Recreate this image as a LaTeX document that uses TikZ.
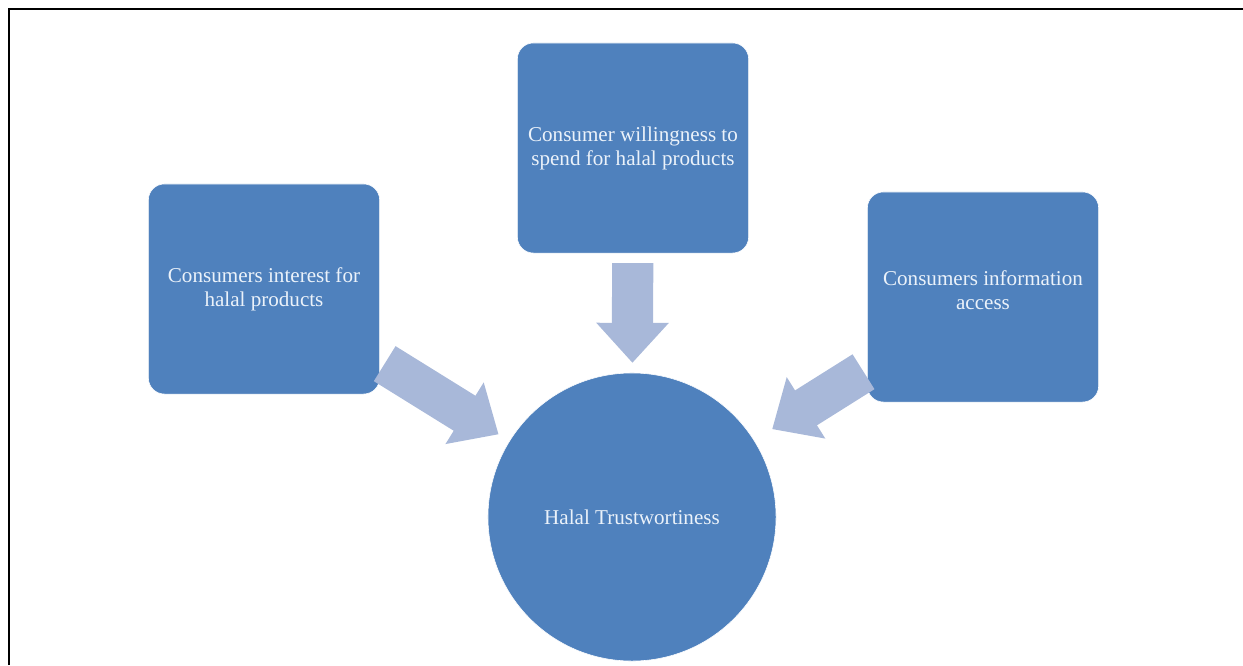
\documentclass[tikz,border=0pt]{standalone}
\usepackage{fontspec}
\setmainfont{Liberation Serif}
\usetikzlibrary{arrows.meta,positioning,calc}
\definecolor{halalBlue}{RGB}{79, 129, 189}
\definecolor{halalLightBlue}{RGB}{168, 184, 217}
\definecolor{halalText}{RGB}{235, 242, 250}

\begin{document}
\begin{tikzpicture}[
  x=0.025cm, y=-0.025cm,
  factor/.style={
    fill=halalBlue,
    draw=white,
    rounded corners=0.4cm,
    minimum width=5.78cm,
    minimum height=5.25cm,
    align=center,
    text=halalText,
    font=\fontsize{15}{17}\selectfont
  },
  hubnode/.style={
    circle,
    fill=halalBlue,
    draw=white,
    minimum size=7.2cm,
    text=halalText,
    font=\fontsize{15}{17}\selectfont
  },
  blockarrow/.style={
    -{Triangle[width=1.75cm,length=1cm]},
    line width=1.03cm,
    halalLightBlue
  }
]
  \useasboundingbox (0,0) rectangle (1243,665);
  \draw[line width=1.4pt] (9,665) -- (9,9) -- (1243,9);
  \node[factor] (interest) at (264,289) {Consumers interest for\\halal products};
  \node[factor] (spend) at (633,148) {Consumer willingness to\\spend for halal products};
  \node[factor] (access) at (983,297) {Consumers information\\access\\[-0.25cm]};
  \node[hubnode] (hub) at (632,517) {Halal Trustwortiness};
  \draw[blockarrow,shorten <=4,shorten >=9] (interest) -- (hub);
  \draw[blockarrow,shorten <=7,shorten >=7] (spend) -- (hub);
  \draw[blockarrow,shorten <=3,shorten >=15] (access) -- (hub);
\end{tikzpicture}
\end{document}
